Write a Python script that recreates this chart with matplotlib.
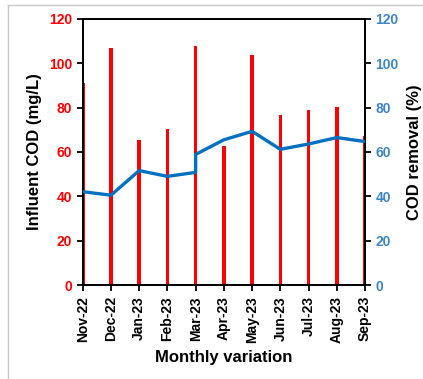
import numpy as np
import matplotlib.pyplot as plt
from matplotlib.lines import Line2D

plt.rcParams['font.family'] = ['Liberation Sans', 'DejaVu Sans']
plt.rcParams['font.weight'] = 'bold'

months = ['Nov-22', 'Dec-22', 'Jan-23', 'Feb-23', 'Mar-23', 'Apr-23',
          'May-23', 'Jun-23', 'Jul-23', 'Aug-23', 'Sep-23']
influent_cod = [91.0, 107.1, 65.3, 70.5, 107.7, 62.7, 103.7, 76.7, 78.8, 80.3, 67.4]

# removal series: two readings logged in March
removal_months = ['Nov-22', 'Dec-22', 'Jan-23', 'Feb-23', 'Mar-23', 'Mar-23', 'Apr-23',
                  'May-23', 'Jun-23', 'Jul-23', 'Aug-23', 'Sep-23']
cod_removal = [42.1, 40.5, 51.6, 49.0, 50.8, 58.9, 65.5, 69.3, 61.2, 63.6, 66.5, 64.7]

red = '#FF0000'
blue = '#0070C0'
blue_txt = '#3D85C6'

fig = plt.figure(figsize=(4.23, 3.79), dpi=100)
ax = fig.add_axes([0.1955, 0.248, 0.6675, 0.702])
ax2 = ax.twinx()

x = np.arange(len(months))
xr = [months.index(m) for m in removal_months]

ax.bar(x, influent_cod, width=0.13, color=red, zorder=2)
ax.set_ylim(0, 120)
ax.set_yticks(np.arange(0, 121, 20))
ax.set_xlim(0, len(months) - 1)
ax.set_xticks(x)
ax.set_xticklabels(months, rotation=90, fontsize=10, fontweight='bold')

ax2.plot(xr, cod_removal, color=blue, lw=2.4, zorder=3)
ax2.set_ylim(0, 120)
ax2.set_yticks(np.arange(0, 121, 20))

ax.tick_params(axis='y', colors='black', labelcolor=red, labelsize=10,
               direction='out', length=4, width=1.3)
ax.tick_params(axis='x', direction='out', length=4, width=1.3, pad=4)
ax2.tick_params(axis='y', colors='black', labelcolor=blue_txt, labelsize=10,
                direction='out', length=4, width=1.3)
for a in (ax, ax2):
    for lbl in a.get_yticklabels():
        lbl.set_fontweight('bold')
    for s in a.spines.values():
        s.set_linewidth(1.3)

ax.set_ylabel('Influent COD (mg/L)', fontsize=12, fontweight='bold', labelpad=5)
ax2.set_ylabel('COD removal (%)', fontsize=12, fontweight='bold', labelpad=6)
ax.set_xlabel('Monthly variation', fontsize=12, fontweight='bold', labelpad=5)

# light frame around the figure
fig.add_artist(Line2D([8 / 423, 8 / 423], [0, 1 - 5 / 379], color='#C8C8C8', lw=1,
                      transform=fig.transFigure))
fig.add_artist(Line2D([8 / 423, 1], [1 - 5 / 379, 1 - 5 / 379], color='#C8C8C8', lw=1,
                      transform=fig.transFigure))

fig.savefig('out.png', dpi=100)
